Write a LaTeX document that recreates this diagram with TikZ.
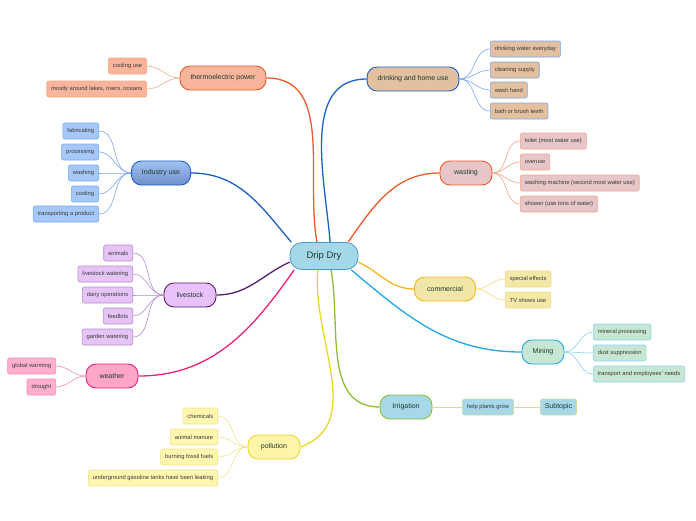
\documentclass[tikz,border=0pt]{standalone}
\usepackage{fontspec}
\setmainfont{Liberation Sans}
\usetikzlibrary{positioning, calc}
\definecolor{rootfill}{HTML}{A4D8E8}
\definecolor{rootline}{HTML}{4A9CD0}
\definecolor{topictext}{HTML}{1E3A30}
\definecolor{leaftext}{HTML}{3A3A3A}
\definecolor{thermofill}{HTML}{F9B59C}
\definecolor{thermoline}{HTML}{F05A28}
\definecolor{thermoleaf}{HTML}{F6A88C}
\definecolor{indtop}{HTML}{A2C2F2}
\definecolor{indbottom}{HTML}{6E8FC8}
\definecolor{indline}{HTML}{1A5FC8}
\definecolor{indleaffill}{HTML}{A6C8F8}
\definecolor{indleaf}{HTML}{7AA8F0}
\definecolor{livefill}{HTML}{E8C0FA}
\definecolor{liveline}{HTML}{5A1A6E}
\definecolor{liveleaffill}{HTML}{E6C4F5}
\definecolor{liveleaf}{HTML}{B48AD2}
\definecolor{weatherfill}{HTML}{FFA5C8}
\definecolor{weatherline}{HTML}{F0207A}
\definecolor{weatherleaffill}{HTML}{FFB0CF}
\definecolor{weatherleaf}{HTML}{F58AB8}
\definecolor{pollfill}{HTML}{FFF5A8}
\definecolor{pollline}{HTML}{E8D62A}
\definecolor{pollleaffill}{HTML}{FFF6B0}
\definecolor{pollleaf}{HTML}{F2E28A}
\definecolor{drinkfill}{HTML}{E2C0A0}
\definecolor{drinkline}{HTML}{1A60D0}
\definecolor{drinkleaf}{HTML}{7AA8EE}
\definecolor{wastefill}{HTML}{E6C6C8}
\definecolor{wasteleaf}{HTML}{F5A48A}
\definecolor{commfill}{HTML}{EFE6A8}
\definecolor{commline}{HTML}{F5B820}
\definecolor{commleaffill}{HTML}{F2E8A8}
\definecolor{commleaf}{HTML}{FFD87A}
\definecolor{minefill}{HTML}{C8E6D4}
\definecolor{mineline}{HTML}{1EA8E8}
\definecolor{mineleaf}{HTML}{8AD4F2}
\definecolor{irrfill}{HTML}{A6D8E8}
\definecolor{irrline}{HTML}{8CC030}
\definecolor{irrleaf}{HTML}{C8E09A}

\begin{document}
\begin{tikzpicture}[
  x=1pt, y=1pt,
  root/.style={
    rectangle, rounded corners=12pt,
    minimum width=68pt, minimum height=27pt,
    draw=rootline, fill=rootfill, line width=0.8pt,
    font=\fontsize{9.5}{10}\selectfont, text=topictext
  },
  topic/.style={
    rectangle, rounded corners=10pt,
    minimum width=52pt, minimum height=24pt, inner xsep=10.5pt,
    line width=0.9pt,
    font=\fontsize{7}{8}\selectfont, text=topictext
  },
  leaf/.style={
    rectangle, rounded corners=2pt,
    minimum height=16pt, inner xsep=4.5pt, inner ysep=1pt,
    line width=0.6pt,
    font=\fontsize{5.8}{6}\selectfont, text=leaftext
  },
  mainline/.style={line width=1.3pt},
  leafline/.style={line width=0.6pt}
]
  \useasboundingbox (0,0) rectangle (696,-520);

  % Central topic
  \node[root] (drip) at (324,-256) {Drip Dry};

  % Left side topics
  \node[topic, draw=thermoline, fill=thermofill] (thermo) at (223,-78) {thermoelectric power};
  \node[topic, draw=indline, top color=indtop, bottom color=indbottom] (industry) at (161,-173) {Industry use};
  \node[topic, draw=liveline, fill=livefill] (livestock) at (190,-295) {livestock};
  \node[topic, draw=weatherline, fill=weatherfill] (weather) at (112,-376) {weather};
  \node[topic, draw=pollline, fill=pollfill] (pollution) at (274,-447) {pollution};

  % Right side topics
  \node[topic, draw=drinkline, fill=drinkfill] (drinking) at (413,-79) {drinking and home use};
  \node[topic, draw=thermoline, fill=wastefill] (wasting) at (466,-173) {wasting};
  \node[topic, draw=commline, fill=commfill, minimum width=61pt] (commercial) at (445,-289) {commercial};
  \node[topic, draw=mineline, fill=minefill, minimum width=42pt] (mining) at (543,-352) {Mining};
  \node[topic, draw=irrline, fill=irrfill] (irrigation) at (406,-407) {Irrigation};

  % Main branches
  \draw[mainline, thermoline] (thermo.east) to[out=0, in=100] (drip.117);
  \draw[mainline, indline] (industry.east) to[out=0, in=130] (drip.157);
  \draw[mainline, liveline] (livestock.east) to[out=0, in=205] (drip.190);
  \draw[mainline, weatherline] (weather.east) to[out=0, in=235] (drip.205);
  \draw[mainline, pollline] (pollution.east) to[out=20, in=265] (drip.246);
  \draw[mainline, drinkline] (drip.66) to[out=95, in=180] (drinking.west);
  \draw[mainline, thermoline] (drip.30) to[out=55, in=180] (wasting.west);
  \draw[mainline, commline] (drip.350) to[out=-25, in=180] (commercial.west);
  \draw[mainline, mineline] (drip.333) to[out=-40, in=180] (mining.west);
  \draw[mainline, irrline] (drip.297) to[out=-80, in=180] (irrigation.west);

  % thermoelectric power
  \node[leaf, draw=thermoleaf, fill=thermofill, anchor=east] (cooluse) at (147,-66) {cooling use};
  \node[leaf, draw=thermoleaf, fill=thermofill, anchor=east] (lakes) at (147,-89) {mostly around lakes, rivers, oceans};
  \foreach \n in {cooluse, lakes}
    \draw[leafline, thermoleaf] (thermo.west) to[out=180, in=0] (\n.east);

  % Industry use
  \node[leaf, draw=indleaf, fill=indleaffill, anchor=east] (fab) at (99,-131) {fabricating};
  \node[leaf, draw=indleaf, fill=indleaffill, anchor=east] (proc) at (99,-152) {processing};
  \node[leaf, draw=indleaf, fill=indleaffill, anchor=east] (wash) at (99,-173) {washing};
  \node[leaf, draw=indleaf, fill=indleaffill, anchor=east] (cool) at (99,-194) {cooling};
  \node[leaf, draw=indleaf, fill=indleaffill, anchor=east] (transp) at (99,-214) {transporting a product};
  \foreach \n in {fab, proc, wash, cool, transp}
    \draw[leafline, indleaf] (industry.west) to[out=180, in=0] (\n.east);

  % livestock
  \node[leaf, draw=liveleaf, fill=liveleaffill, anchor=east] (animals) at (133,-253) {animals};
  \node[leaf, draw=liveleaf, fill=liveleaffill, anchor=east] (lwater) at (133,-274) {livestock watering};
  \node[leaf, draw=liveleaf, fill=liveleaffill, anchor=east] (dairy) at (133,-295) {dairy operations};
  \node[leaf, draw=liveleaf, fill=liveleaffill, anchor=east] (feed) at (133,-316) {feedlots};
  \node[leaf, draw=liveleaf, fill=liveleaffill, anchor=east] (garden) at (133,-337) {garden watering};
  \foreach \n in {animals, lwater, dairy, feed, garden}
    \draw[leafline, liveleaf] (livestock.west) to[out=180, in=0] (\n.east);

  % weather
  \node[leaf, draw=weatherleaf, fill=weatherleaffill, anchor=east] (global) at (56,-366) {global warming};
  \node[leaf, draw=weatherleaf, fill=weatherleaffill, anchor=east] (drought) at (56,-387) {drought};
  \foreach \n in {global, drought}
    \draw[leafline, weatherleaf] (weather.west) to[out=180, in=0] (\n.east);

  % pollution
  \node[leaf, draw=pollleaf, fill=pollleaffill, anchor=east] (chem) at (218,-416) {chemicals};
  \node[leaf, draw=pollleaf, fill=pollleaffill, anchor=east] (manure) at (218,-437) {animal manure};
  \node[leaf, draw=pollleaf, fill=pollleaffill, anchor=east] (fossil) at (218,-457) {burning fossil fuels};
  \node[leaf, draw=pollleaf, fill=pollleaffill, anchor=east] (tanks) at (218,-478) {underground gasoline tanks have been leaking};
  \foreach \n in {chem, manure, fossil, tanks}
    \draw[leafline, pollleaf] (pollution.west) to[out=180, in=0] (\n.east);

  % drinking and home use
  \node[leaf, draw=drinkleaf, fill=drinkfill, anchor=west] (everyday) at (490,-49) {drinking water everyday};
  \node[leaf, draw=drinkleaf, fill=drinkfill, anchor=west] (supply) at (490,-70) {cleaning supply};
  \node[leaf, draw=drinkleaf, fill=drinkfill, anchor=west] (hand) at (490,-90) {wash hand};
  \node[leaf, draw=drinkleaf, fill=drinkfill, anchor=west] (bath) at (490,-111) {bath or brush teeth};
  \foreach \n in {everyday, supply, hand, bath}
    \draw[leafline, drinkleaf] (drinking.east) to[out=0, in=180] (\n.west);

  % wasting
  \node[leaf, draw=wasteleaf, fill=wastefill, anchor=west] (toilet) at (520,-141) {toilet (most water use)};
  \node[leaf, draw=wasteleaf, fill=wastefill, anchor=west] (overuse) at (520,-162) {overuse};
  \node[leaf, draw=wasteleaf, fill=wastefill, anchor=west] (machine) at (520,-183) {washing machine (second most water use)};
  \node[leaf, draw=wasteleaf, fill=wastefill, anchor=west] (shower) at (520,-204) {shower (use tons of water)};
  \foreach \n in {toilet, overuse, machine, shower}
    \draw[leafline, wasteleaf] (wasting.east) to[out=0, in=180] (\n.west);

  % commercial
  \node[leaf, draw=commleaf, fill=commleaffill, anchor=west] (effects) at (505,-279) {special effects};
  \node[leaf, draw=commleaf, fill=commleaffill, anchor=west] (shows) at (505,-300) {TV shows use};
  \foreach \n in {effects, shows}
    \draw[leafline, commleaf] (commercial.east) to[out=0, in=180] (\n.west);

  % Mining
  \node[leaf, draw=mineleaf, fill=minefill, anchor=west] (mineral) at (593,-332) {mineral processing};
  \node[leaf, draw=mineleaf, fill=minefill, anchor=west] (dust) at (593,-353) {dust suppression};
  \node[leaf, draw=mineleaf, fill=minefill, anchor=west] (employees) at (593,-374) {transport and employees' needs};
  \foreach \n in {mineral, dust, employees}
    \draw[leafline, mineleaf] (mining.east) to[out=0, in=180] (\n.west);

  % Irrigation
  \node[leaf, draw=irrleaf, fill=irrfill, anchor=west] (plants) at (462,-407) {help plants grow};
  \node[leaf, draw=irrleaf, fill=irrfill, anchor=west, font=\fontsize{7}{8}\selectfont, text=topictext] (subtopic) at (540,-407) {Subtopic};
  \draw[leafline, irrleaf] (irrigation.east) -- (plants.west);
  \draw[leafline, irrleaf] (plants.east) -- (subtopic.west);
\end{tikzpicture}
\end{document}
